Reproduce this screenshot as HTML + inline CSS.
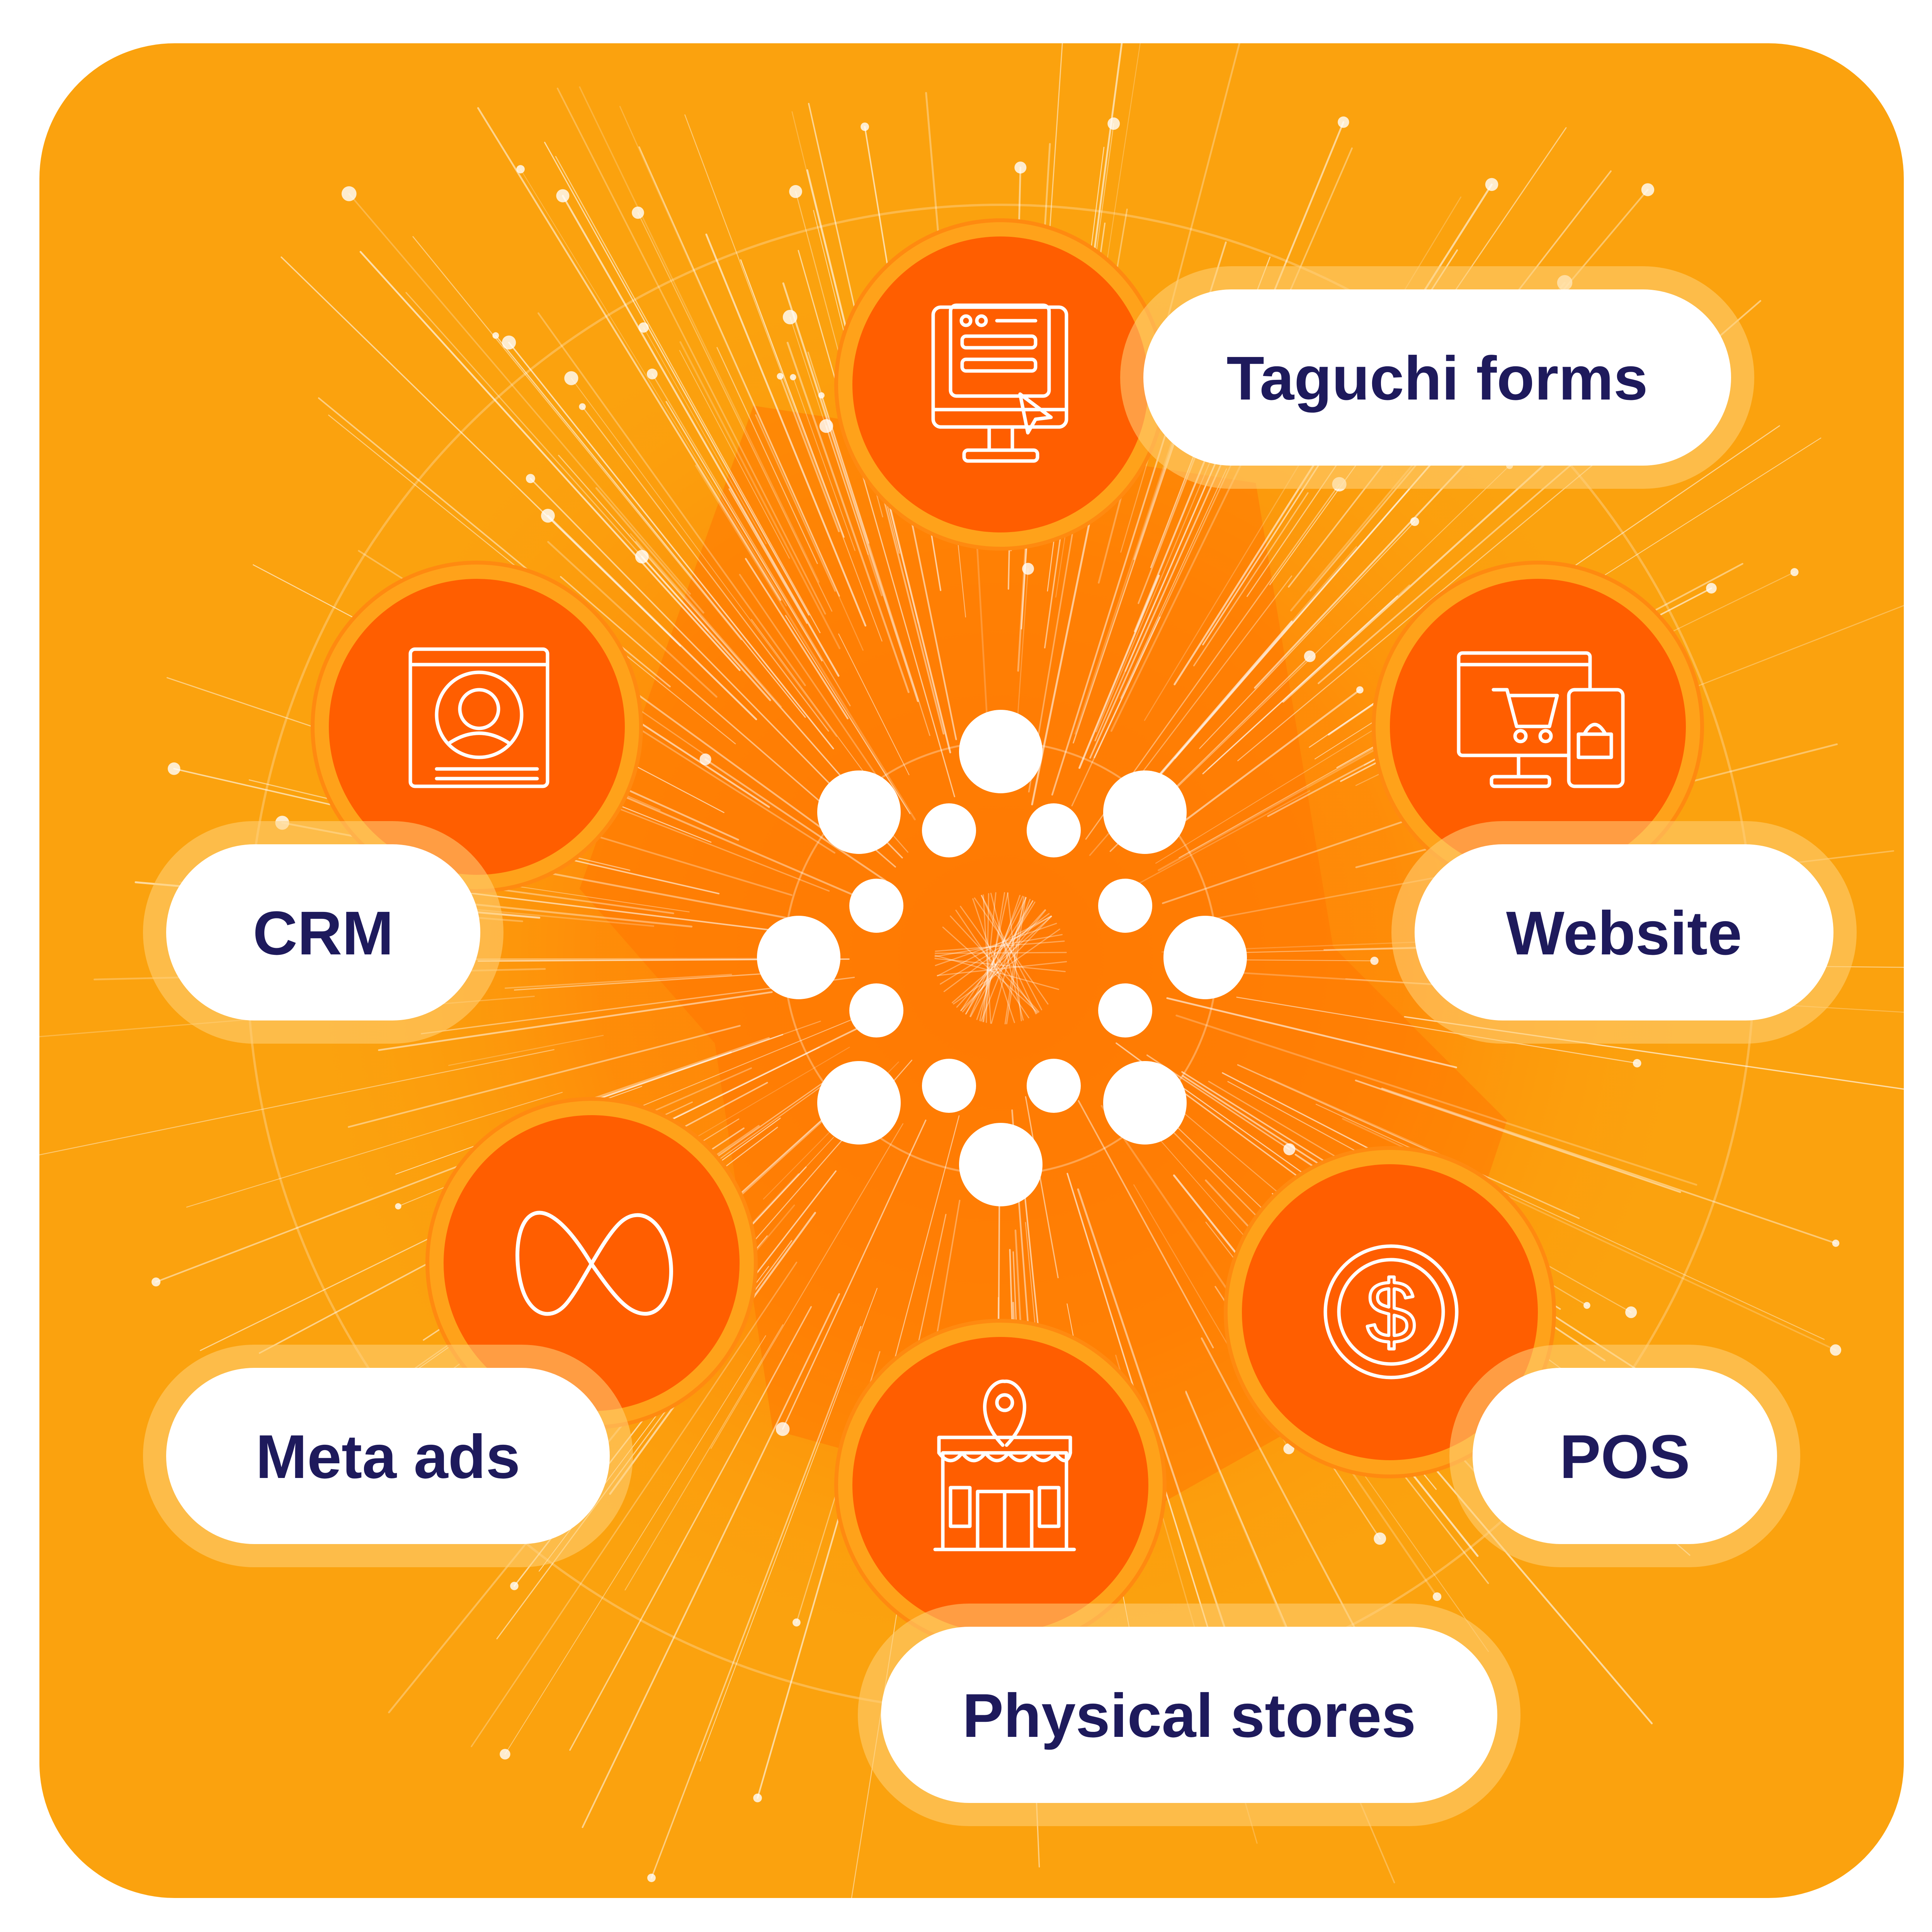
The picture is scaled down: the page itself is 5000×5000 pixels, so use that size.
<!DOCTYPE html>
<html><head><meta charset="utf-8">
<style>
html,body{margin:0;padding:0;background:#fff;width:5000px;height:5000px;overflow:hidden;}
body{position:relative;font-family:"Liberation Sans",sans-serif;}
svg{position:absolute;left:0;top:0;display:block;}
</style></head><body>
<svg id="s" width="5000" height="5000" viewBox="0 0 5000 5000">
<defs>
<radialGradient id="bgc" cx="2590" cy="2480" r="1900" gradientUnits="userSpaceOnUse">
<stop offset="0" stop-color="#FF7A05"/><stop offset="0.55" stop-color="#FF8A08"/><stop offset="1" stop-color="#FBA30E" stop-opacity="0"/>
</radialGradient>
<clipPath id="clip"><rect x="102" y="112" width="4825" height="4800" rx="350"/></clipPath>
</defs>
<rect x="102" y="112" width="4825" height="4800" rx="350" fill="#FBA20E"/>
<g clip-path="url(#clip)">
<circle cx="2590" cy="2480" r="1900" fill="url(#bgc)" opacity="0.9"/>
<polygon points="1950,1050 3250,1250 3450,2450 3900,2900 3700,3500 2900,3950 2000,3700 1850,2700 1500,2300" fill="#FF7300" opacity="0.5"/>
<g id="rays" stroke="#fff" stroke-linecap="round"></g>
<circle cx="2590" cy="2480" r="1950" fill="none" stroke="#fff" stroke-opacity="0.25" stroke-width="6"/>
<circle cx="2590" cy="2480" r="560" fill="none" stroke="#fff" stroke-opacity="0.3" stroke-width="5"/>
</g>
<g fill="#fff">
<circle cx="2590" cy="1945" r="108"/><circle cx="2223" cy="2102" r="108"/><circle cx="2963" cy="2102" r="108"/>
<circle cx="2067" cy="2478" r="108"/><circle cx="3119" cy="2478" r="108"/><circle cx="2223" cy="2854" r="108"/>
<circle cx="2963" cy="2854" r="108"/><circle cx="2590" cy="3014" r="108"/>
<circle cx="2456" cy="2149" r="70"/><circle cx="2727" cy="2149" r="70"/><circle cx="2268" cy="2344" r="70"/>
<circle cx="2912" cy="2344" r="70"/><circle cx="2268" cy="2615" r="70"/><circle cx="2912" cy="2615" r="70"/>
<circle cx="2456" cy="2810" r="70"/><circle cx="2727" cy="2810" r="70"/>
</g>
<g id="nodes"></g>
<g id="pills"></g>
<g fill="none" stroke="#fff" stroke-width="9" stroke-linecap="round" stroke-linejoin="round">
<rect x="2415" y="795" width="345" height="310" rx="20"/>
<line x1="2415" y1="1060" x2="2760" y2="1060"/>
<rect x="2460" y="790" width="255" height="235" rx="15"/>
<circle cx="2500" cy="830" r="12"/><circle cx="2540" cy="830" r="12"/><line x1="2580" y1="830" x2="2680" y2="830"/>
<rect x="2490" y="870" width="190" height="30" rx="10"/><rect x="2490" y="930" width="190" height="30" rx="10"/>
<line x1="2560" y1="1105" x2="2560" y2="1165"/><line x1="2620" y1="1105" x2="2620" y2="1165"/>
<rect x="2495" y="1165" width="190" height="28" rx="10"/>
<path d="M2640 1020 L2720 1080 L2680 1085 L2660 1120 Z"/>
<rect x="1062" y="1680" width="355" height="355" rx="12"/><line x1="1062" y1="1720" x2="1417" y2="1720"/>
<circle cx="1240" cy="1850" r="110"/><circle cx="1240" cy="1835" r="50"/>
<path d="M1160 1925 Q1240 1870 1320 1925"/>
<line x1="1130" y1="1990" x2="1390" y2="1990"/><line x1="1130" y1="2015" x2="1390" y2="2015"/>
<rect x="3775" y="1690" width="340" height="265" rx="10"/><line x1="3775" y1="1720" x2="4115" y2="1720"/>
<line x1="3930" y1="1955" x2="3930" y2="2010"/><rect x="3860" y="2010" width="150" height="25" rx="8"/>
<path d="M3865 1785 L3900 1785 L3925 1880 L4010 1880 L4030 1800 L3905 1800"/>
<circle cx="3935" cy="1905" r="14"/><circle cx="4000" cy="1905" r="14"/>
<rect x="4060" y="1785" width="140" height="250" rx="15" fill="#FF5E00"/>
<rect x="4085" y="1900" width="85" height="60"/><path d="M4100 1900 Q4127 1850 4155 1900"/>
<path d="M1530 3270 C1470 3170 1420 3130 1385 3140 C1335 3155 1330 3260 1350 3330 C1370 3400 1420 3420 1460 3380 C1500 3340 1560 3200 1610 3160 C1660 3120 1720 3160 1735 3260 C1745 3340 1715 3400 1670 3400 C1620 3400 1580 3340 1530 3270" stroke-width="10"/>
<circle cx="3600" cy="3395" r="170"/><circle cx="3600" cy="3395" r="135"/>
<text x="3600" y="3475" font-size="230" text-anchor="middle" fill="none" stroke="#fff" stroke-width="8" font-family="Liberation Sans">$</text>
<rect x="2440" y="3760" width="320" height="250"/>
<path d="M2430 3760 L2430 3720 L2770 3720 L2770 3760 M2430 3760 Q2460 3800 2490 3760 Q2520 3800 2550 3760 Q2580 3800 2610 3760 Q2640 3800 2670 3760 Q2700 3800 2730 3760 Q2760 3800 2770 3760"/>
<path d="M2595 3740 C2510 3650 2560 3570 2600 3575 C2640 3570 2690 3650 2605 3740"/><circle cx="2600" cy="3630" r="20"/>
<rect x="2530" y="3860" width="140" height="150"/><line x1="2600" y1="3860" x2="2600" y2="4010"/>
<rect x="2460" y="3850" width="50" height="100"/><rect x="2690" y="3850" width="50" height="100"/>
<line x1="2420" y1="4010" x2="2780" y2="4010"/>
</g>
</svg>
<script>
(function(){
var NS="http://www.w3.org/2000/svg";
var rays=document.getElementById('rays');
var seed=7;function r(){seed=(seed*16807)%2147483647;return seed/2147483647;}
var cx=2590,cy=2480;
for(var i=0;i<300;i++){
 var a=r()*Math.PI*2;
 var r0=350+r()*900, r1=r0+400+r()*1200;
 if(r1>2600) r1=2600;
 var l=document.createElementNS(NS,'line');
 l.setAttribute('x1',cx+Math.cos(a)*r0);l.setAttribute('y1',cy+Math.sin(a)*r0);
 var ex=cx+Math.cos(a)*r1,ey=cy+Math.sin(a)*r1;
 l.setAttribute('x2',ex);l.setAttribute('y2',ey);
 l.setAttribute('stroke-width',2+r()*3);l.setAttribute('stroke-opacity',0.2+r()*0.45);
 rays.appendChild(l);
 if(r()<0.3){var c=document.createElementNS(NS,'circle');c.setAttribute('cx',ex);c.setAttribute('cy',ey);c.setAttribute('r',8+r()*12);c.setAttribute('fill','#fff');c.setAttribute('fill-opacity',0.8);c.setAttribute('stroke','none');rays.appendChild(c);}
}
for(var k=0;k<40;k++){
 var a1=r()*Math.PI*2,a2=a1+Math.PI+(r()-0.5);
 var l2=document.createElementNS(NS,'line');
 l2.setAttribute('x1',cx+Math.cos(a1)*170);l2.setAttribute('y1',cy+Math.sin(a1)*170);
 l2.setAttribute('x2',cx+Math.cos(a2)*170);l2.setAttribute('y2',cy+Math.sin(a2)*170);
 l2.setAttribute('stroke-width',3);l2.setAttribute('stroke-opacity',0.35);rays.appendChild(l2);
}
var nodes=document.getElementById('nodes');
[[2589,995],[1234,1881],[3980,1881],[1531,3269],[3597,3396],[2589,3843]].forEach(function(p){
 var h=document.createElementNS(NS,'circle');h.setAttribute('cx',p[0]);h.setAttribute('cy',p[1]);h.setAttribute('r',425);h.setAttribute('fill','#FFA21A');h.setAttribute('stroke','#FF8A10');h.setAttribute('stroke-width',10);nodes.appendChild(h);
 var c=document.createElementNS(NS,'circle');c.setAttribute('cx',p[0]);c.setAttribute('cy',p[1]);c.setAttribute('r',383);c.setAttribute('fill','#FF5E00');nodes.appendChild(c);
});
var pills=document.getElementById('pills');
[[2959,749,1521,'Taguchi forms'],[430,2185,813,'CRM'],[3661,2185,1084,'Website'],[430,3540,1148,'Meta ads'],[3811,3540,788,'POS'],[2280,4210,1595,'Physical stores']].forEach(function(p){
 var g=document.createElementNS(NS,'rect');g.setAttribute('x',p[0]-60);g.setAttribute('y',p[1]-60);g.setAttribute('width',p[2]+120);g.setAttribute('height',576);g.setAttribute('rx',288);g.setAttribute('fill','#FFD27A');g.setAttribute('fill-opacity',0.55);pills.appendChild(g);
 var b=document.createElementNS(NS,'rect');b.setAttribute('x',p[0]);b.setAttribute('y',p[1]);b.setAttribute('width',p[2]);b.setAttribute('height',456);b.setAttribute('rx',228);b.setAttribute('fill','#fff');pills.appendChild(b);
 var t=document.createElementNS(NS,'text');t.setAttribute('x',p[0]+p[2]/2);t.setAttribute('y',p[1]+285);t.setAttribute('text-anchor','middle');t.setAttribute('font-size','160');t.setAttribute('font-weight','bold');t.setAttribute('fill','#1E1A5C');t.setAttribute('font-family','Liberation Sans, sans-serif');t.textContent=p[3];pills.appendChild(t);
});
})();
</script>
</body></html>
